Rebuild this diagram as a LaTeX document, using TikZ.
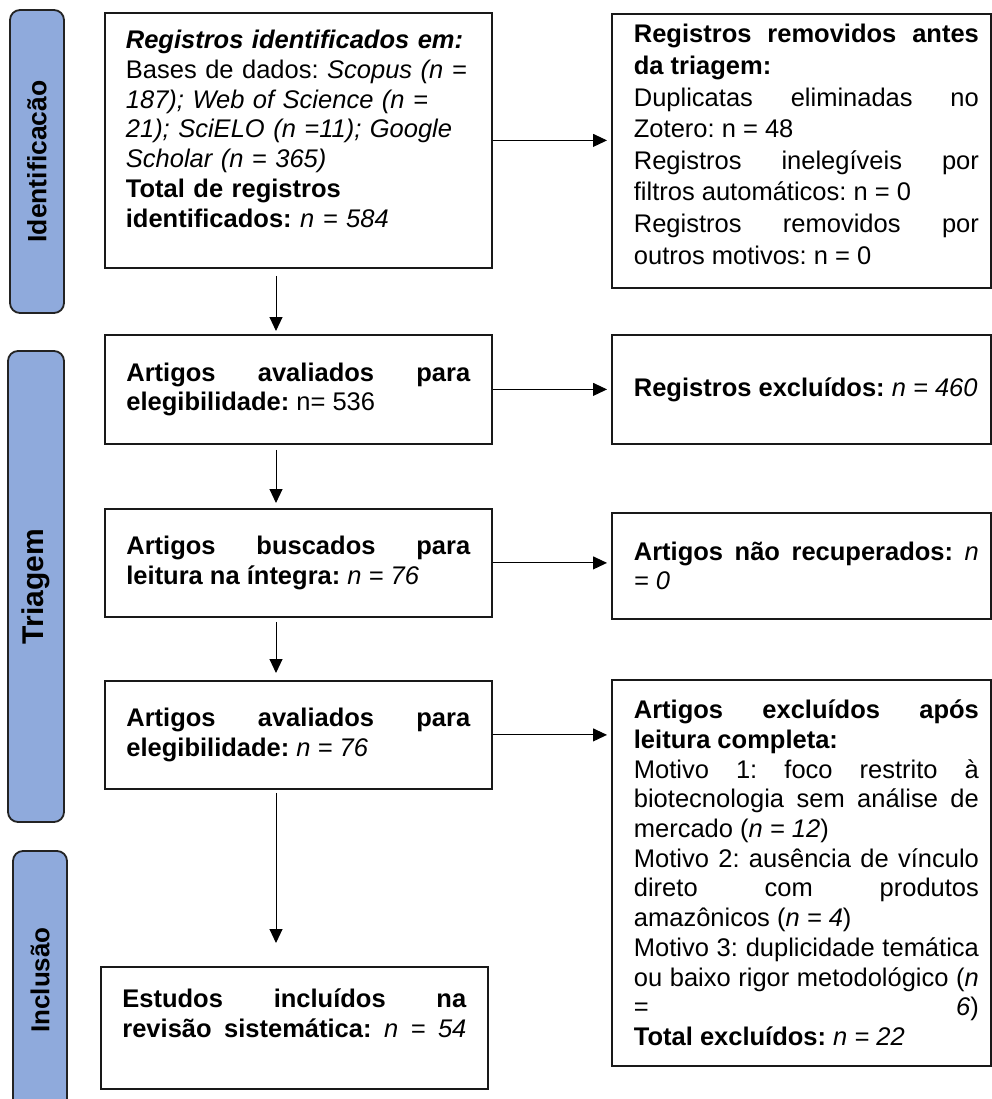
\documentclass[tikz,border=0pt]{standalone}
\usepackage{fontspec}
\setmainfont{Liberation Sans}
\usetikzlibrary{arrows.meta}
\definecolor{sidefill}{RGB}{143,170,220}
\definecolor{sideline}{RGB}{35,35,35}
\newcommand{\boxfont}{\fontsize{25.5}{29.7}\selectfont\frenchspacing}
\tikzstyle{bx}=[draw=black!90,line width=1.8pt,anchor=north west,inner xsep=0pt,inner ysep=16pt,font=\boxfont,align=justify]
\tikzstyle{lbox}=[bx,minimum width=387pt,text width=344pt]
\tikzstyle{rbox}=[bx,minimum width=379pt,text width=355pt,execute at begin node={\leftskip=10pt}]
\tikzstyle{side}=[draw=sideline,fill=sidefill,line width=1.8pt,rounded corners=10pt,rotate=90,inner sep=0pt]
\tikzstyle{arr}=[line width=1pt,-{Triangle[length=14pt,width=13pt]}]

\begin{document}
\begin{tikzpicture}[x=1pt,y=-1pt]
\useasboundingbox (0,0) rectangle (991,1099);
% fases
\node[side,minimum width=303pt,minimum height=54pt,font=\bfseries\fontsize{26.5}{30}\selectfont] (fase1) at (37,161.5) {Identificacão};
\node[side,minimum width=471pt,minimum height=56pt,font=\bfseries\fontsize{30}{34}\selectfont] (fase2) at (36,586.5) {Triagem};
\node[side,minimum width=258pt,minimum height=54pt,font=\bfseries\fontsize{26}{30}\selectfont] (fase3) at (40,980) {Inclusão};
% coluna da esquerda
\node[lbox,align=left,text width=356pt,text height=20pt,text depth=203pt,execute at begin node={\leftskip=5.5pt}] (ident) at (104,12) {\textbf{\textit{Registros identificados em:}}\newline
Bases de dados: \textit{Scopus (n =}\newline
\textit{187); Web of Science (n =}\newline
\textit{21); SciELO (n =11); Google}\newline
\textit{Scholar (n = 365)}\newline
\textbf{Total de registros}\newline
\textbf{identificados:} \textit{n = 584}};
\node[lbox,minimum height=109pt] (aval1) at (104,334) {\textbf{Artigos avaliados para}\linebreak
\textbf{elegibilidade:} n= 536};
\node[lbox,minimum height=108pt] (busca) at (104,508) {\textbf{Artigos buscados para}\linebreak
\textbf{leitura na íntegra:} \textit{n = 76}};
\node[lbox,minimum height=108pt] (aval2) at (104,680) {\textbf{Artigos avaliados para}\linebreak
\textbf{elegibilidade:} \textit{n = 76}};
\node[lbox,text height=25pt,text depth=65pt] (incl) at (100,966) {\textbf{Estudos incluídos na}\linebreak
\textbf{revisão sistemática:} \textit{n = 54}\parfillskip=0pt\par};
% coluna da direita
\node[rbox,text height=13pt,text depth=229pt,font=\boxfont\linespread{1.064}\selectfont] (remov) at (611,13) {\textbf{Registros removidos antes}\linebreak
\textbf{da triagem:}\newline
Duplicatas eliminadas no\linebreak
Zotero: n = 48\newline
Registros inelegíveis por\linebreak
filtros automáticos: n = 0\newline
Registros removidos por\linebreak
outros motivos: n = 0};
\node[rbox,minimum height=109pt] (excl1) at (611,334) {\textbf{Registros excluídos:} \textit{n = 460}};
\node[rbox,minimum height=106pt] (nrec) at (611,512) {\textbf{Artigos não recuperados:} \textit{n}\linebreak
\textit{= 0}};
\node[rbox,minimum height=386pt] (excl2) at (611,679) {\textbf{Artigos excluídos após}\linebreak
\textbf{leitura completa:}\newline
Motivo 1: foco restrito à\linebreak
biotecnologia sem análise de\linebreak
mercado (\textit{n = 12})\newline
Motivo 2: ausência de vínculo\linebreak
direto com produtos\linebreak
amazônicos (\textit{n = 4})\newline
Motivo 3: duplicidade temática\linebreak
ou baixo rigor metodológico (\textit{n}\linebreak
= \textit{6})\linebreak
\textbf{Total excluídos:} \textit{n = 22}};
% setas
\coordinate (eixo) at (276,0);
\draw[arr] ([yshift=-7pt]ident.south -| eixo) -- ([yshift=3pt]aval1.north -| eixo);
\draw[arr] ([yshift=-5pt]aval1.south -| eixo) -- ([yshift=5pt]busca.north -| eixo);
\draw[arr] ([yshift=-4pt]busca.south -| eixo) -- ([yshift=7pt]aval2.north -| eixo);
\draw[arr] ([yshift=-3pt]aval2.south -| eixo) -- ([yshift=23pt]incl.north -| eixo);
\draw[arr] (ident.east) -- ([xshift=-4pt]remov.west |- ident.east);
\draw[arr] (aval1.east) -- ([xshift=-4pt]excl1.west |- aval1.east);
\draw[arr] (busca.east) -- ([xshift=-4pt]nrec.west |- busca.east);
\draw[arr] (aval2.east) -- ([xshift=-4pt]excl2.west |- aval2.east);
\end{tikzpicture}
\end{document}
